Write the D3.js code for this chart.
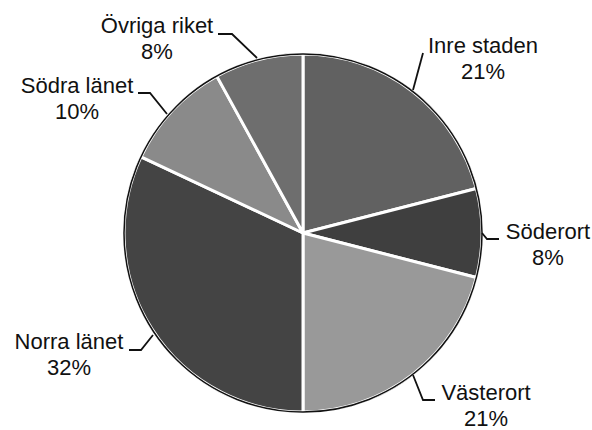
<!DOCTYPE html>
<html>
<head>
<meta charset="utf-8">
<script src="https://cdn.jsdelivr.net/npm/d3@7"></script>
<style>
body { margin: 0; background: #fff; }
.label { font-family: "Liberation Sans", Arial, sans-serif; font-size: 22px; fill: #111; }
.leader { fill: none; stroke: #111; stroke-width: 1.8; }
</style>
</head>
<body>
<svg width="592" height="430"></svg>
<script>
// **** Data ****
var regions = ["Inre staden", "Söderort", "Västerort", "Norra länet", "Södra länet", "Övriga riket"];
var shares = [21, 8, 21, 32, 10, 8];
var grays = ["#616161", "#3f3f3f", "#999999", "#444444", "#8a8a8a", "#6e6e6e"];

// label anchor (centre of text) and leader lines, in pixels
var labelPos = [[483, 53], [548, 239], [486, 400], [69, 349], [77, 93], [157, 33]];
var leaders = [
    [[413, 90], [423, 53]],
    [[482, 233], [487, 239], [499, 239]],
    [[413, 375], [423, 400], [435, 400]],
    [[153, 335], [141, 350], [129, 350]],
    [[167, 114], [150, 93], [138, 93]],
    [[257, 58], [232, 34], [218, 34]]
];

var cx = 303, cy = 233, radius = 179;
var svg = d3.select("svg");

var pie = d3.pie().sort(null).value(function (d) { return d; });
var arc = d3.arc().innerRadius(0).outerRadius(radius);

var g = svg.append("g").attr("transform", "translate(" + cx + "," + cy + ")");

// black rim first, slices with white gaps on top
g.append("circle").attr("r", radius + 1).style("fill", "#111");

g.selectAll("path.slice").data(pie(shares)).enter().append("path")
    .attr("class", "slice")
    .attr("d", arc)
    .style("fill", function (d, i) { return grays[i]; })
    .style("stroke", "#fff")
    .style("stroke-width", 3)
    .style("stroke-linejoin", "round");

// redraw rim so the white gaps stop at the edge
g.append("circle").attr("r", radius).style("fill", "none").style("stroke", "#111").style("stroke-width", 1.5);

// **** Leader lines ****
var line = d3.line();
svg.selectAll("path.leader").data(leaders).enter().append("path")
    .attr("class", "leader")
    .attr("d", line);

// **** Labels ****
var labels = svg.selectAll("g.lab").data(regions).enter().append("g").attr("class", "lab")
    .attr("transform", function (d, i) { return "translate(" + labelPos[i][0] + "," + labelPos[i][1] + ")"; });

labels.append("text").attr("class", "label").attr("text-anchor", "middle")
    .text(function (d) { return d; });
labels.append("text").attr("class", "label").attr("text-anchor", "middle").attr("y", 26)
    .text(function (d, i) { return shares[i] + "%"; });
</script>
</body>
</html>
